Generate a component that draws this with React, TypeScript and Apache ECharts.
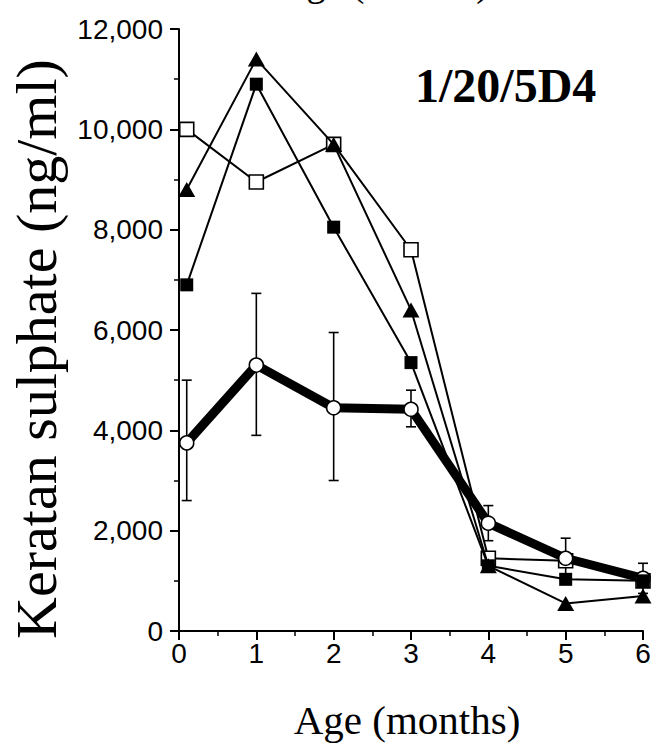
import React, { useEffect, useRef } from "react";
import * as echarts from "echarts";

const months = [0.1, 1, 2, 3, 4, 5, 6];
const xTicks = [0, 1, 2, 3, 4, 5, 6];
const yTicks = [0, 2000, 4000, 6000, 8000, 10000, 12000];
const openSquare = [10000, 8950, 9700, 7600, 1450, 1400, 1000];
const filledSquare = [6900, 10900, 8050, 5350, 1300, 1030, 1000];
const triangle = [8800, 11400, 9700, 6400, 1300, 550, 700];
const meanCircle = [3750, 5300, 4450, 4420, 2150, 1450, 1050];
const errLow = [2600, 3900, 3000, 4070, 1800, 1100, 750];
const errHigh = [5000, 6730, 5950, 4800, 2500, 1850, 1350];

const title = "1/20/5D4";
const xName = "Age (months)";
const yName = "Keratan sulphate (ng/ml)";

const fmt = (v: number) => {
  const s = String(Math.round(v));
  return s.replace(/\B(?=(\d{3})+(?!\d))/g, ",");
};

export default function App() {
  const ref = useRef<HTMLDivElement>(null);
  useEffect(() => {
    document.body.style.margin = "0";
    if (!ref.current) return;
    const chart = echarts.init(ref.current, undefined, { renderer: "svg" });
    const pts = (arr: number[]) => months.map((m, i) => [m, arr[i]]);
    const thin = { color: "#000", width: 2 };
    const axisCommon = {
      axisLine: { show: true, onZero: false, lineStyle: { color: "#000", width: 2 } },
      axisTick: { show: true, length: 9, lineStyle: { color: "#000", width: 2 } },
      minorTick: { show: true, splitNumber: 2, length: 5, lineStyle: { color: "#000", width: 1.5 } },
      splitLine: { show: false },
      minorSplitLine: { show: false },
    };
    chart.setOption({
      animation: false,
      backgroundColor: "#fff",
      grid: { left: 179, right: 14, top: 29, bottom: 123, containLabel: false },
      xAxis: {
        type: "value",
        min: xTicks[0],
        max: xTicks[xTicks.length - 1],
        interval: 1,
        ...axisCommon,
        axisLabel: {
          color: "#000",
          fontFamily: "Liberation Sans",
          fontSize: 28,
          margin: 8,
          formatter: (v: number) => String(v),
        },
      },
      yAxis: {
        type: "value",
        min: yTicks[0],
        max: yTicks[yTicks.length - 1],
        interval: 2000,
        ...axisCommon,
        axisLabel: {
          color: "#000",
          fontFamily: "Liberation Sans",
          fontSize: 28,
          margin: 16,
          formatter: (v: number) => fmt(v),
        },
      },
      graphic: [
        {
          type: "text",
          x: 36,
          y: 349,
          rotation: Math.PI / 2,
          style: {
            text: yName,
            x: 0,
            y: 0,
            fill: "#000",
            font: "58px 'Liberation Serif'",
            align: "center",
            verticalAlign: "middle",
            textAlign: "center",
            textVerticalAlign: "middle",
          },
        },
        {
          type: "text",
          x: 407,
          y: 720,
          style: {
            text: xName,
            x: 0,
            y: 0,
            fill: "#000",
            font: "41px 'Liberation Serif'",
            align: "center",
            verticalAlign: "middle",
            textAlign: "center",
            textVerticalAlign: "middle",
          },
        },
        {
          type: "text",
          x: 279,
          y: -17,
          style: {
            text: xName,
            x: 0,
            y: 0,
            fill: "#000",
            font: "38px 'Liberation Serif'",
            align: "left",
            verticalAlign: "middle",
            textAlign: "left",
            textVerticalAlign: "middle",
          },
        },
        {
          type: "text",
          x: 415,
          y: 85,
          style: {
            text: title,
            x: 0,
            y: 0,
            fill: "#000",
            font: "bold 48px 'Liberation Serif'",
            align: "left",
            verticalAlign: "middle",
            textAlign: "left",
            textVerticalAlign: "middle",
          },
        },
      ],
      series: [
        {
          type: "custom",
          name: "err",
          clip: false,
          z: 1,
          data: months.map((m, i) => [m, errLow[i], errHigh[i]]),
          encode: { x: 0, y: [1, 2] },
          renderItem: (params: any, api: any) => {
            const x = api.value(0);
            const pLo = api.coord([x, api.value(1)]);
            const pHi = api.coord([x, api.value(2)]);
            const w = 5;
            const st = { stroke: "#000", lineWidth: 1.6 };
            return {
              type: "group",
              children: [
                { type: "line", shape: { x1: pLo[0], y1: pLo[1], x2: pHi[0], y2: pHi[1] }, style: st },
                { type: "line", shape: { x1: pLo[0] - w, y1: pLo[1], x2: pLo[0] + w, y2: pLo[1] }, style: st },
                { type: "line", shape: { x1: pHi[0] - w, y1: pHi[1], x2: pHi[0] + w, y2: pHi[1] }, style: st },
              ],
            };
          },
        },
        {
          type: "line",
          name: "open square",
          z: 2,
          data: pts(openSquare),
          lineStyle: thin,
          symbol: "rect",
          symbolSize: 14,
          itemStyle: { color: "#fff", borderColor: "#000", borderWidth: 1.6 },
        },
        {
          type: "line",
          name: "mean",
          z: 3,
          data: pts(meanCircle),
          lineStyle: { color: "#000", width: 9 },
          symbol: "circle",
          symbolSize: 14,
          itemStyle: { color: "#fff", borderColor: "#000", borderWidth: 1.6 },
        },
        {
          type: "line",
          name: "triangle",
          z: 4,
          data: pts(triangle),
          lineStyle: thin,
          symbol: "triangle",
          symbolSize: [17, 15],
          itemStyle: { color: "#000", borderColor: "#000", borderWidth: 0 },
        },
        {
          type: "line",
          name: "filled square",
          z: 5,
          data: pts(filledSquare),
          lineStyle: thin,
          symbol: "rect",
          symbolSize: 13,
          itemStyle: { color: "#000", borderColor: "#000", borderWidth: 0 },
        },
      ],
    });
    return () => chart.dispose();
  }, []);
  return <div ref={ref} style={{ width: 657, height: 754 }} />;
}
